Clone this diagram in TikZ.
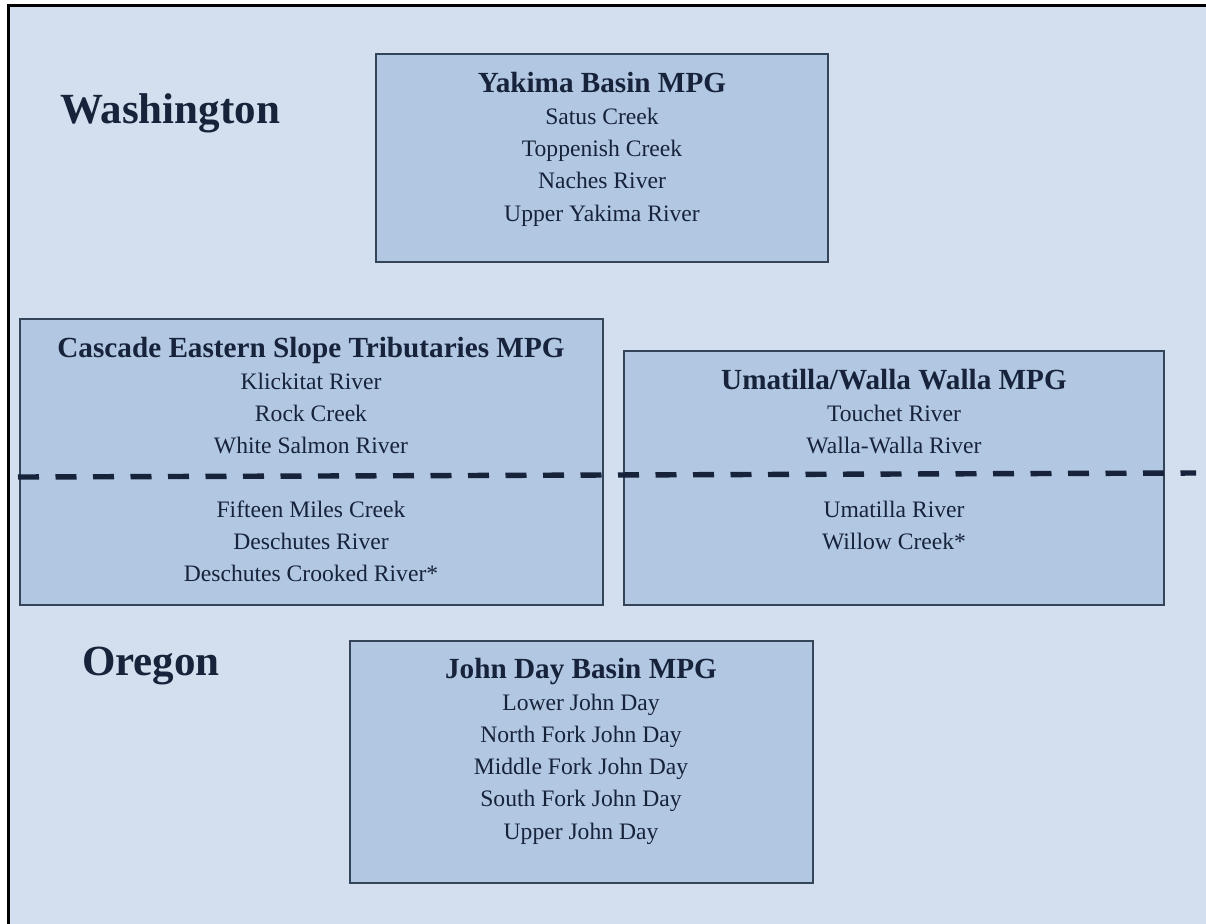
\documentclass[tikz,border=0pt]{standalone}
\usepackage{fontspec}
\setmainfont{Liberation Serif}

\definecolor{bgblue}{HTML}{D3DFEE}
\definecolor{boxblue}{HTML}{B1C7E2}
\definecolor{inkblue}{HTML}{17233A}
\definecolor{edgeblue}{HTML}{354559}

\tikzset{
  mpgbox/.style={draw=edgeblue, fill=boxblue, line width=0.8pt},
  mpgtitle/.style={anchor=base, text=inkblue, inner sep=0pt,
    font=\fontsize{14.6}{17}\selectfont\bfseries},
  river/.style={anchor=base, text=inkblue, inner sep=0pt,
    font=\fontsize{11.8}{14}\selectfont},
  statename/.style={anchor=base, text=inkblue, inner sep=0pt,
    font=\fontsize{21.5}{25}\selectfont\bfseries},
}

\begin{document}
\begin{tikzpicture}[x=0.5pt, y=-0.5pt]
    \useasboundingbox (0,0) rectangle (1206,923);

    % Background and frame (run past the page edge)
    \fill[bgblue] (8,5) rectangle (1230,945);
    \draw[black, line width=1.5pt] (8,945) -- (8,5) -- (1230,5);

    % State labels
    \node[statename] (washington) at (170,123) {Washington};
    \node[statename] (oregon) at (151,675) {Oregon};

    % Yakima Basin
    \draw[mpgbox] (376,54) rectangle (828,262);
    \node[mpgtitle] (yaktitle) at (602,92) {Yakima Basin MPG};
    \foreach \river [count=\i] in {Satus Creek, Toppenish Creek, Naches River, Upper Yakima River}
        \node[river] (yak\i) at (602,{92+32.3*\i}) {\river};

    % Cascade Eastern Slope
    \draw[mpgbox] (20,319) rectangle (603,605);
    \node[mpgtitle] (castitle) at (311,357) {Cascade Eastern Slope Tributaries MPG};
    \foreach \river [count=\i] in {Klickitat River, Rock Creek, White Salmon River}
        \node[river] (cas\i) at (311,{357+32*\i}) {\river};
    \foreach \river [count=\i] in {Fifteen Miles Creek, Deschutes River, Deschutes Crooked River*}
        \node[river] (caslow\i) at (311,{485+32.3*\i}) {\river};

    % Umatilla / Walla Walla
    \draw[mpgbox] (624,351) rectangle (1164,605);
    \node[mpgtitle] (umatitle) at (894,389) {Umatilla/Walla Walla MPG};
    \foreach \river [count=\i] in {Touchet River, Walla-Walla River}
        \node[river] (uma\i) at (894,{389+32*\i}) {\river};
    \foreach \river [count=\i] in {Umatilla River, Willow Creek*}
        \node[river] (umalow\i) at (894,{485+32*\i}) {\river};

    % John Day Basin
    \draw[mpgbox] (350,641) rectangle (813,883);
    \node[mpgtitle] (jdtitle) at (581,678) {John Day Basin MPG};
    \foreach \river [count=\i] in {Lower John Day, North Fork John Day, Middle Fork John Day, South Fork John Day, Upper John Day}
        \node[river] (jd\i) at (581,{678+32.2*\i}) {\river};

    % State border
    \draw[inkblue, line width=2.7pt, dash pattern=on 10.5pt off 8.25pt] (18,477) -- (1196,473);

\end{tikzpicture}
\end{document}
